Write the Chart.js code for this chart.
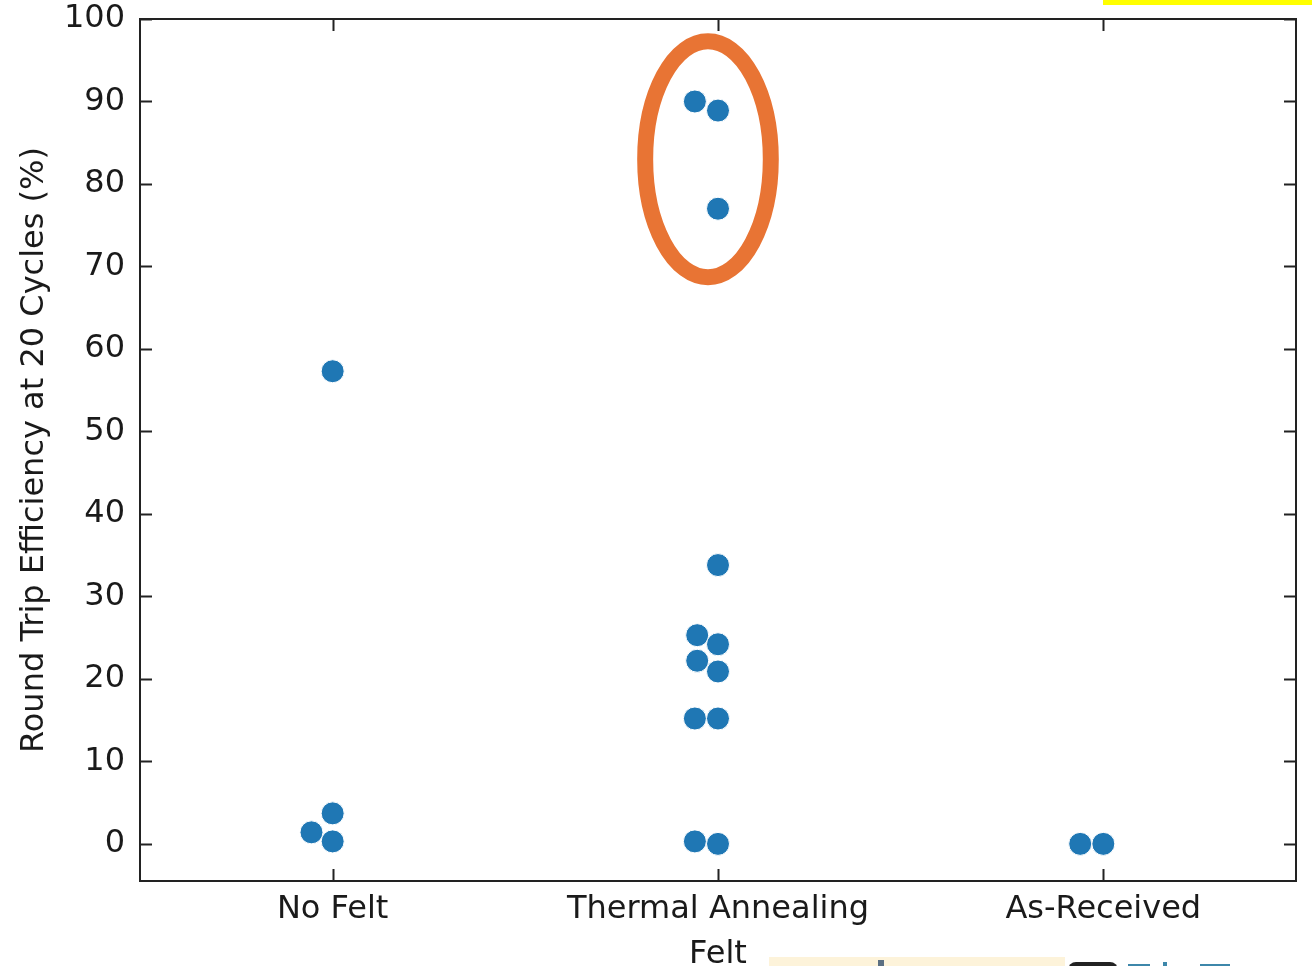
<!DOCTYPE html>
<html>
<head>
<meta charset="utf-8">
<script src="https://cdn.jsdelivr.net/npm/chart.js@4.4.1/dist/chart.umd.min.js"></script>
<style>
    html, body { margin: 0; padding: 0; background: #fff; overflow: hidden; }
    #wrap { position: relative; width: 1312px; height: 966px; overflow: hidden; }
    #wrap canvas { position: absolute; left: 0; top: 0; }
    .bit { position: absolute; }
</style>
</head>
<body>
<div id="wrap">
    <canvas id="chart" width="1312" height="980" style="width:1312px;height:980px"></canvas>
    <div class="bit" style="left:1103px;top:0;width:209px;height:5px;background:#ffff00"></div>
    <div class="bit" style="left:769px;top:957px;width:296px;height:9px;background:#fdf3da"></div>
    <div class="bit" style="left:878px;top:960px;width:6px;height:6px;background:#5b6f82"></div>
    <div class="bit" style="left:1068px;top:962px;width:50px;height:8px;background:#222;border-radius:20px 20px 0 0"></div>
    <div class="bit" style="left:1128px;top:964px;width:22px;height:2px;background:#3d87aa"></div>
    <div class="bit" style="left:1163px;top:962px;width:4px;height:4px;background:#3d87aa"></div>
    <div class="bit" style="left:1200px;top:964px;width:30px;height:2px;background:#3d87aa"></div>
</div>
<script>
const categories = ['No Felt', 'Thermal Annealing', 'As-Received'];
const yTicks = [0, 10, 20, 30, 40, 50, 60, 70, 80, 90, 100];

// round trip efficiency (%) per felt treatment
const noFeltValues = [57.3, 3.7, 1.4, 0.3];
const thermalValues = [90.0, 88.9, 77.0, 33.8, 25.3, 24.2, 22.2, 20.9, 15.2, 15.2, 0.3, 0.0];
const asReceivedValues = [0.0, 0.0];

// swarm offsets (in category widths) so points don't overlap
const noFeltOffsets = [0, 0, -0.055, 0];
const thermalOffsets = [-0.06, 0, 0, 0, -0.054, 0, -0.054, 0, -0.06, 0, -0.06, 0];
const asReceivedOffsets = [-0.06, 0];

// highlighted group (orange ellipse), in data units
const highlight = { x: 0.974, y: 83.0, rx: 0.163, ry: 14.3 };

const FONT = "'DejaVu Sans', sans-serif";

function toPoints(idx, values, offsets) {
    return values.map((v, i) => ({ x: idx + offsets[i], y: v }));
}

const points = []
    .concat(toPoints(0, noFeltValues, noFeltOffsets))
    .concat(toPoints(1, thermalValues, thermalOffsets))
    .concat(toPoints(2, asReceivedValues, asReceivedOffsets));

// matplotlib style frame with inward ticks on all four sides + the ellipse
const framePlugin = {
    id: 'frame',
    afterDatasetsDraw(chart) {
        const ctx = chart.ctx;
        const a = chart.chartArea;
        const xs = chart.scales.x, ys = chart.scales.y;

        const cx = xs.getPixelForValue(highlight.x);
        const cy = ys.getPixelForValue(highlight.y);
        const rx = Math.abs(xs.getPixelForValue(highlight.x + highlight.rx) - cx);
        const ry = Math.abs(ys.getPixelForValue(highlight.y + highlight.ry) - cy);
        ctx.save();
        ctx.strokeStyle = '#e87434';
        ctx.lineWidth = 16;
        ctx.beginPath();
        ctx.ellipse(cx, cy, rx, ry, 0, 0, Math.PI * 2);
        ctx.stroke();
        ctx.restore();

        ctx.save();
        ctx.strokeStyle = '#222';
        ctx.lineWidth = 2;
        ctx.strokeRect(a.left, a.top, a.right - a.left, a.bottom - a.top);
        const len = 12;
        ctx.beginPath();
        yTicks.forEach(t => {
            const py = Math.round(ys.getPixelForValue(t)) + 0.5;
            ctx.moveTo(a.left, py); ctx.lineTo(a.left + len, py);
            ctx.moveTo(a.right, py); ctx.lineTo(a.right - len, py);
        });
        categories.forEach((c, i) => {
            const px = Math.round(xs.getPixelForValue(i)) + 0.5;
            ctx.moveTo(px, a.bottom); ctx.lineTo(px, a.bottom - len);
            ctx.moveTo(px, a.top); ctx.lineTo(px, a.top + len);
        });
        ctx.stroke();
        ctx.restore();
    }
};

new Chart(document.getElementById('chart'), {
    type: 'scatter',
    data: {
        datasets: [{
            label: 'Round Trip Efficiency',
            data: points,
            backgroundColor: '#1f77b4',
            borderColor: '#ffffff',
            borderWidth: 1,
            pointRadius: 11.5,
            pointHoverRadius: 11.5
        }]
    },
    options: {
        responsive: false,
        animation: false,
        layout: { padding: { top: 19, right: 16, left: 0, bottom: 0 } },
        plugins: {
            legend: { display: false },
            tooltip: { enabled: false }
        },
        scales: {
            x: {
                type: 'linear',
                min: -0.5,
                max: 2.5,
                afterFit: s => { s.height = 99; s.paddingLeft = 0; s.paddingRight = 0; },
                afterBuildTicks: s => { s.ticks = categories.map((c, i) => ({ value: i })); },
                grid: { display: false, drawTicks: false },
                border: { display: false },
                ticks: {
                    padding: 9,
                    color: '#1a1a1a',
                    font: { family: FONT, size: 32 },
                    callback: v => categories[v]
                },
                title: {
                    display: true,
                    text: 'Felt',
                    color: '#1a1a1a',
                    font: { family: FONT, size: 32 },
                    padding: { top: 0, bottom: 6 }
                }
            },
            y: {
                min: -4.5,
                max: 100,
                afterFit: s => { s.width = 140; s.paddingTop = 0; s.paddingBottom = 0; },
                afterBuildTicks: s => { s.ticks = yTicks.map(v => ({ value: v })); },
                grid: { display: false, drawTicks: false },
                border: { display: false },
                ticks: {
                    padding: 15,
                    color: '#1a1a1a',
                    font: { family: FONT, size: 32 }
                },
                title: {
                    display: true,
                    text: 'Round Trip Efficiency at 20 Cycles (%)',
                    color: '#1a1a1a',
                    font: { family: FONT, size: 32 },
                    padding: { top: 15, bottom: 0 }
                }
            }
        }
    },
    plugins: [framePlugin]
});
</script>
</body>
</html>
